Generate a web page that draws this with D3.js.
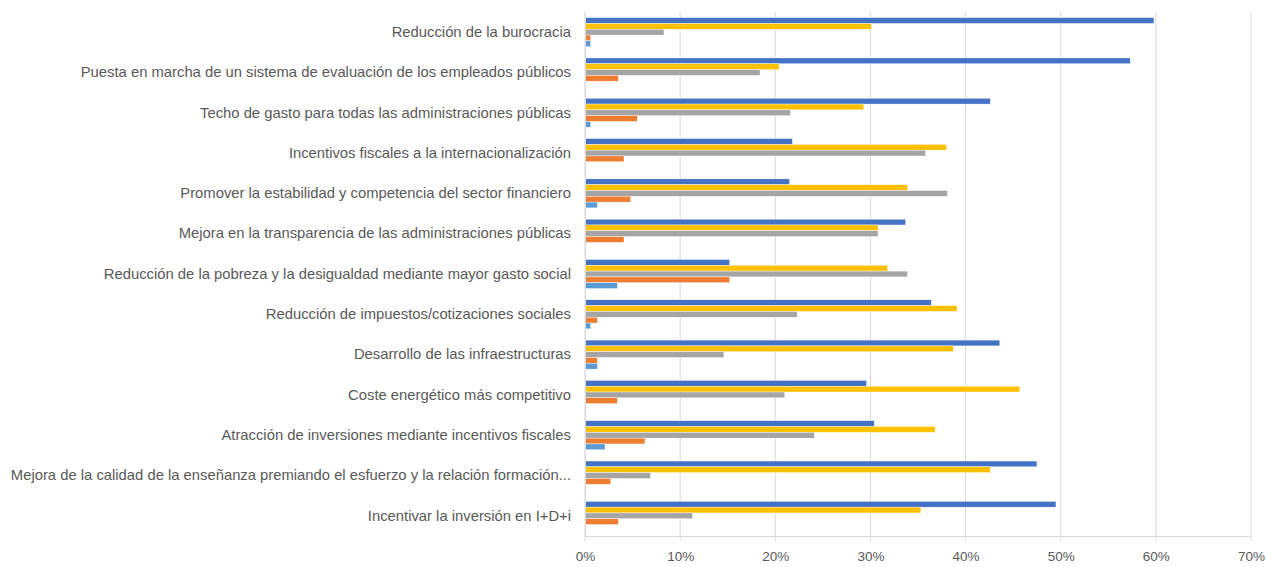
<!DOCTYPE html>
<html>
<head>
<meta charset="utf-8">
<script src="https://cdnjs.cloudflare.com/ajax/libs/d3/7.8.5/d3.min.js"></script>
<style>
  body { margin: 0; background: #fff; }
  text { font-family: "Liberation Sans", Arial, sans-serif; fill: #595959; }
</style>
</head>
<body>
<div id="chart"></div>
<script>
// categories top to bottom
const categories = [
  'Reducción de la burocracia',
  'Puesta en marcha de un sistema de evaluación de los empleados públicos',
  'Techo de gasto para todas las administraciones públicas',
  'Incentivos fiscales a la internacionalización',
  'Promover la estabilidad y competencia del sector financiero',
  'Mejora en la transparencia de las administraciones públicas',
  'Reducción de la pobreza y la desigualdad mediante mayor gasto social',
  'Reducción de impuestos/cotizaciones sociales',
  'Desarrollo de las infraestructuras',
  'Coste energético más competitivo',
  'Atracción de inversiones mediante incentivos fiscales',
  'Mejora de la calidad de la enseñanza premiando el esfuerzo y la relación formación...',
  'Incentivar la inversión en I+D+i'
];

// series values (%), order as drawn inside each group: top to bottom
const serieA = [59.8, 57.3, 42.6, 21.8, 21.5, 33.7, 15.2, 36.4, 43.6, 29.6, 30.4, 47.5, 49.5];
const serieB = [30.1, 20.4, 29.3, 38.0, 33.9, 30.8, 31.8, 39.1, 38.7, 45.7, 36.8, 42.6, 35.3];
const serieC = [8.3, 18.4, 21.6, 35.8, 38.1, 30.8, 33.9, 22.3, 14.6, 21.0, 24.1, 6.9, 11.3];
const serieD = [0.6, 3.5, 5.5, 4.1, 4.8, 4.1, 15.2, 1.3, 1.3, 3.4, 6.3, 2.7, 3.5];
const serieE = [0.6, 0, 0.6, 0, 1.3, 0, 3.4, 0.6, 1.3, 0, 2.1, 0, 0];

const series = [serieA, serieB, serieC, serieD, serieE];
const colors = ['#4472C4', '#FFC000', '#A5A5A5', '#ED7D31', '#5B9BD5'];
const xTicks = [0, 10, 20, 30, 40, 50, 60, 70];

const width = 1266, height = 567;
const margin = { top: 12, right: 15, bottom: 31, left: 585 };
const innerW = 1251 - margin.left;
const innerH = height - margin.top - margin.bottom;

const svg = d3.select('#chart').append('svg')
  .attr('width', width)
  .attr('height', height);

const g = svg.append('g')
  .attr('transform', `translate(${margin.left}, ${margin.top})`);

const x = d3.scaleLinear().domain([0, 70]).range([0, innerW]);
const y = d3.scaleBand().domain(categories).range([0, innerH]).paddingInner(0.28).paddingOuter(0.14);
const ySub = d3.scaleBand().domain(d3.range(series.length)).range([0, y.bandwidth()]);

// gridlines
g.append('g')
  .selectAll('line')
  .data(xTicks)
  .join('line')
  .attr('x1', d => x(d)).attr('x2', d => x(d))
  .attr('y1', 0).attr('y2', innerH + 5)
  .attr('stroke', '#d9d9d9')
  .attr('stroke-width', 1);

// x axis
const xAxis = g.append('g')
  .attr('transform', `translate(0, ${innerH})`)
  .call(d3.axisBottom(x).tickValues(xTicks).tickFormat(d => d + '%').tickSize(0).tickPadding(15));
xAxis.select('.domain').attr('stroke', '#d9d9d9');
xAxis.selectAll('text').style('font-size', '13.5px').style('fill', '#595959');

// bars
const groups = g.append('g')
  .selectAll('g')
  .data(categories)
  .join('g')
  .attr('transform', d => `translate(0, ${y(d)})`);

groups.selectAll('rect')
  .data((d, i) => series.map((s, k) => ({ k, v: s[i] })))
  .join('rect')
  .attr('x', 0)
  .attr('y', d => ySub(d.k))
  .attr('width', d => x(d.v))
  .attr('height', ySub.bandwidth())
  .attr('fill', d => colors[d.k])
  .attr('stroke', '#fff')
  .attr('stroke-width', 0.4);

// category axis
const yAxis = g.append('g')
  .call(d3.axisLeft(y).tickSize(0).tickPadding(14));
yAxis.select('.domain').attr('stroke', '#d9d9d9');
yAxis.selectAll('text').style('font-size', '14.8px').style('fill', '#595959');
</script>
</body>
</html>
